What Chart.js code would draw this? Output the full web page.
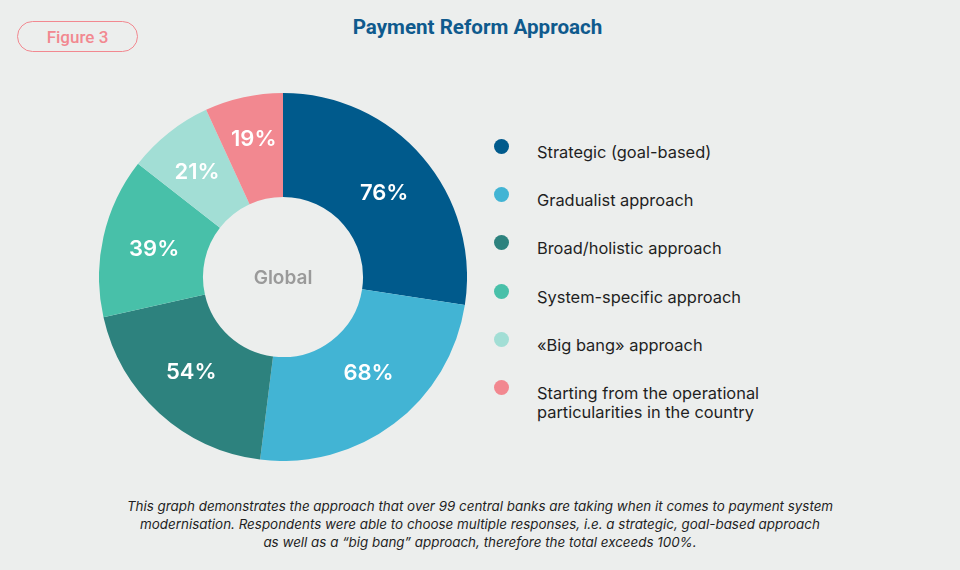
<!DOCTYPE html>
<html>
<head>
<meta charset="utf-8">
<script src="https://cdn.jsdelivr.net/npm/chart.js@4.4.1/dist/chart.umd.min.js"></script>
<style>
  html, body { margin: 0; padding: 0; }
  body { width: 960px; height: 570px; background: #eceeed; position: relative; overflow: hidden; font-family: Inter, "Noto Sans", sans-serif; }
  #badge { position: absolute; left: 17px; top: 21px; width: 119px; height: 29px; border: 1.5px solid #f28890; border-radius: 16px;
           color: #f28890; font-family: Roboto, sans-serif; font-size: 17px; font-weight: 500; text-align: center; line-height: 30px; }
  #title { position: absolute; left: 0; width: 955px; top: 15px; text-align: center; color: #0f5a8d;
           font-family: Roboto, sans-serif; font-weight: 700; font-size: 20.6px; }
  #wrap { position: absolute; left: 99px; top: 93px; width: 368px; height: 368px; }
  #legend { position: absolute; left: 494px; top: 139px; }
  .item { position: relative; padding-left: 43px; font-size: 16.4px; color: #1f1f1f; line-height: 19px; }
  .dot { position: absolute; left: 0; top: 0; width: 15px; height: 15px; border-radius: 50%; }
  #note { position: absolute; left: 0; width: 960px; top: 497px; text-align: center; font-style: italic; font-size: 13.4px; line-height: 18px; color: #1f1f1f; }
</style>
</head>
<body>
<div id="badge">Figure 3</div>
<div id="title">Payment Reform Approach</div>
<div id="wrap"><canvas id="myDoughnut"></canvas></div>
<div id="legend"></div>
<div id="note">This graph demonstrates the approach that over 99 central banks are taking when it comes to payment system<br>modernisation. Respondents were able to choose multiple responses, i.e. a strategic, goal-based approach<br>as well as a “big bang” approach, therefore the total exceeds 100%.</div>
<script>
// du lieu doc tu hinh
const labels = ['Strategic (goal-based)', 'Gradualist approach', 'Broad/holistic approach',
    'System-specific approach', '«Big bang» approach', 'Starting from the operational\nparticularities in the country'];
const values = [76, 68, 54, 39, 21, 19];
const colors = ['#005a8c', '#42b4d4', '#2d827e', '#48c0a9', '#a2ded5', '#f28890'];

// legend viet bang HTML
const legendBox = document.getElementById('legend');
const rowTops = [0, 48, 96, 145, 193, 241];
labels.forEach((label, i) => {
    const div = document.createElement('div');
    div.className = 'item';
    div.style.position = 'absolute';
    div.style.top = rowTops[i] + 'px';
    div.style.width = '300px';
    div.innerHTML = '<span class="dot" style="background:' + colors[i] + '"></span>' +
        '<span style="position:relative;top:4px">' + label.replace('\n', '<br>') + '</span>';
    legendBox.appendChild(div);
});

// plugin ve nhan % va chu Global (lech nhe cho giong hinh goc)
const labelNudge = [[1, 1], [6, -10], [-3, -3], [0, 0], [-4, -2], [-1, -10]];
const sliceLabels = {
    id: 'sliceLabels',
    afterDatasetsDraw(chart) {
        const ctx = chart.ctx;
        const meta = chart.getDatasetMeta(0);
        ctx.save();
        ctx.textAlign = 'center';
        ctx.textBaseline = 'middle';
        ctx.fillStyle = '#ffffff';
        ctx.font = '600 22px Inter';
        meta.data.forEach((arc, i) => {
            const p = arc.getCenterPoint();
            ctx.fillText(values[i] + '%', p.x + labelNudge[i][0], p.y + 1 + labelNudge[i][1]);
        });
        const c = meta.data[0];
        ctx.fillStyle = '#9a9a9a';
        ctx.font = '600 19px Inter';
        ctx.fillText('Global', c.x, c.y + 1);
        ctx.restore();
    }
};

const ctx = document.getElementById('myDoughnut').getContext('2d');
new Chart(ctx, {
    type: 'doughnut',
    data: {
        labels: labels,
        datasets: [{
            data: values,
            backgroundColor: colors,
            borderWidth: 0,
            hoverOffset: 0
        }]
    },
    options: {
        responsive: true,
        maintainAspectRatio: false,
        animation: false,
        cutout: '43.5%',
        layout: { padding: 0 },
        plugins: {
            legend: { display: false },
            tooltip: { enabled: false }
        }
    },
    plugins: [sliceLabels]
});
</script>
</body>
</html>
